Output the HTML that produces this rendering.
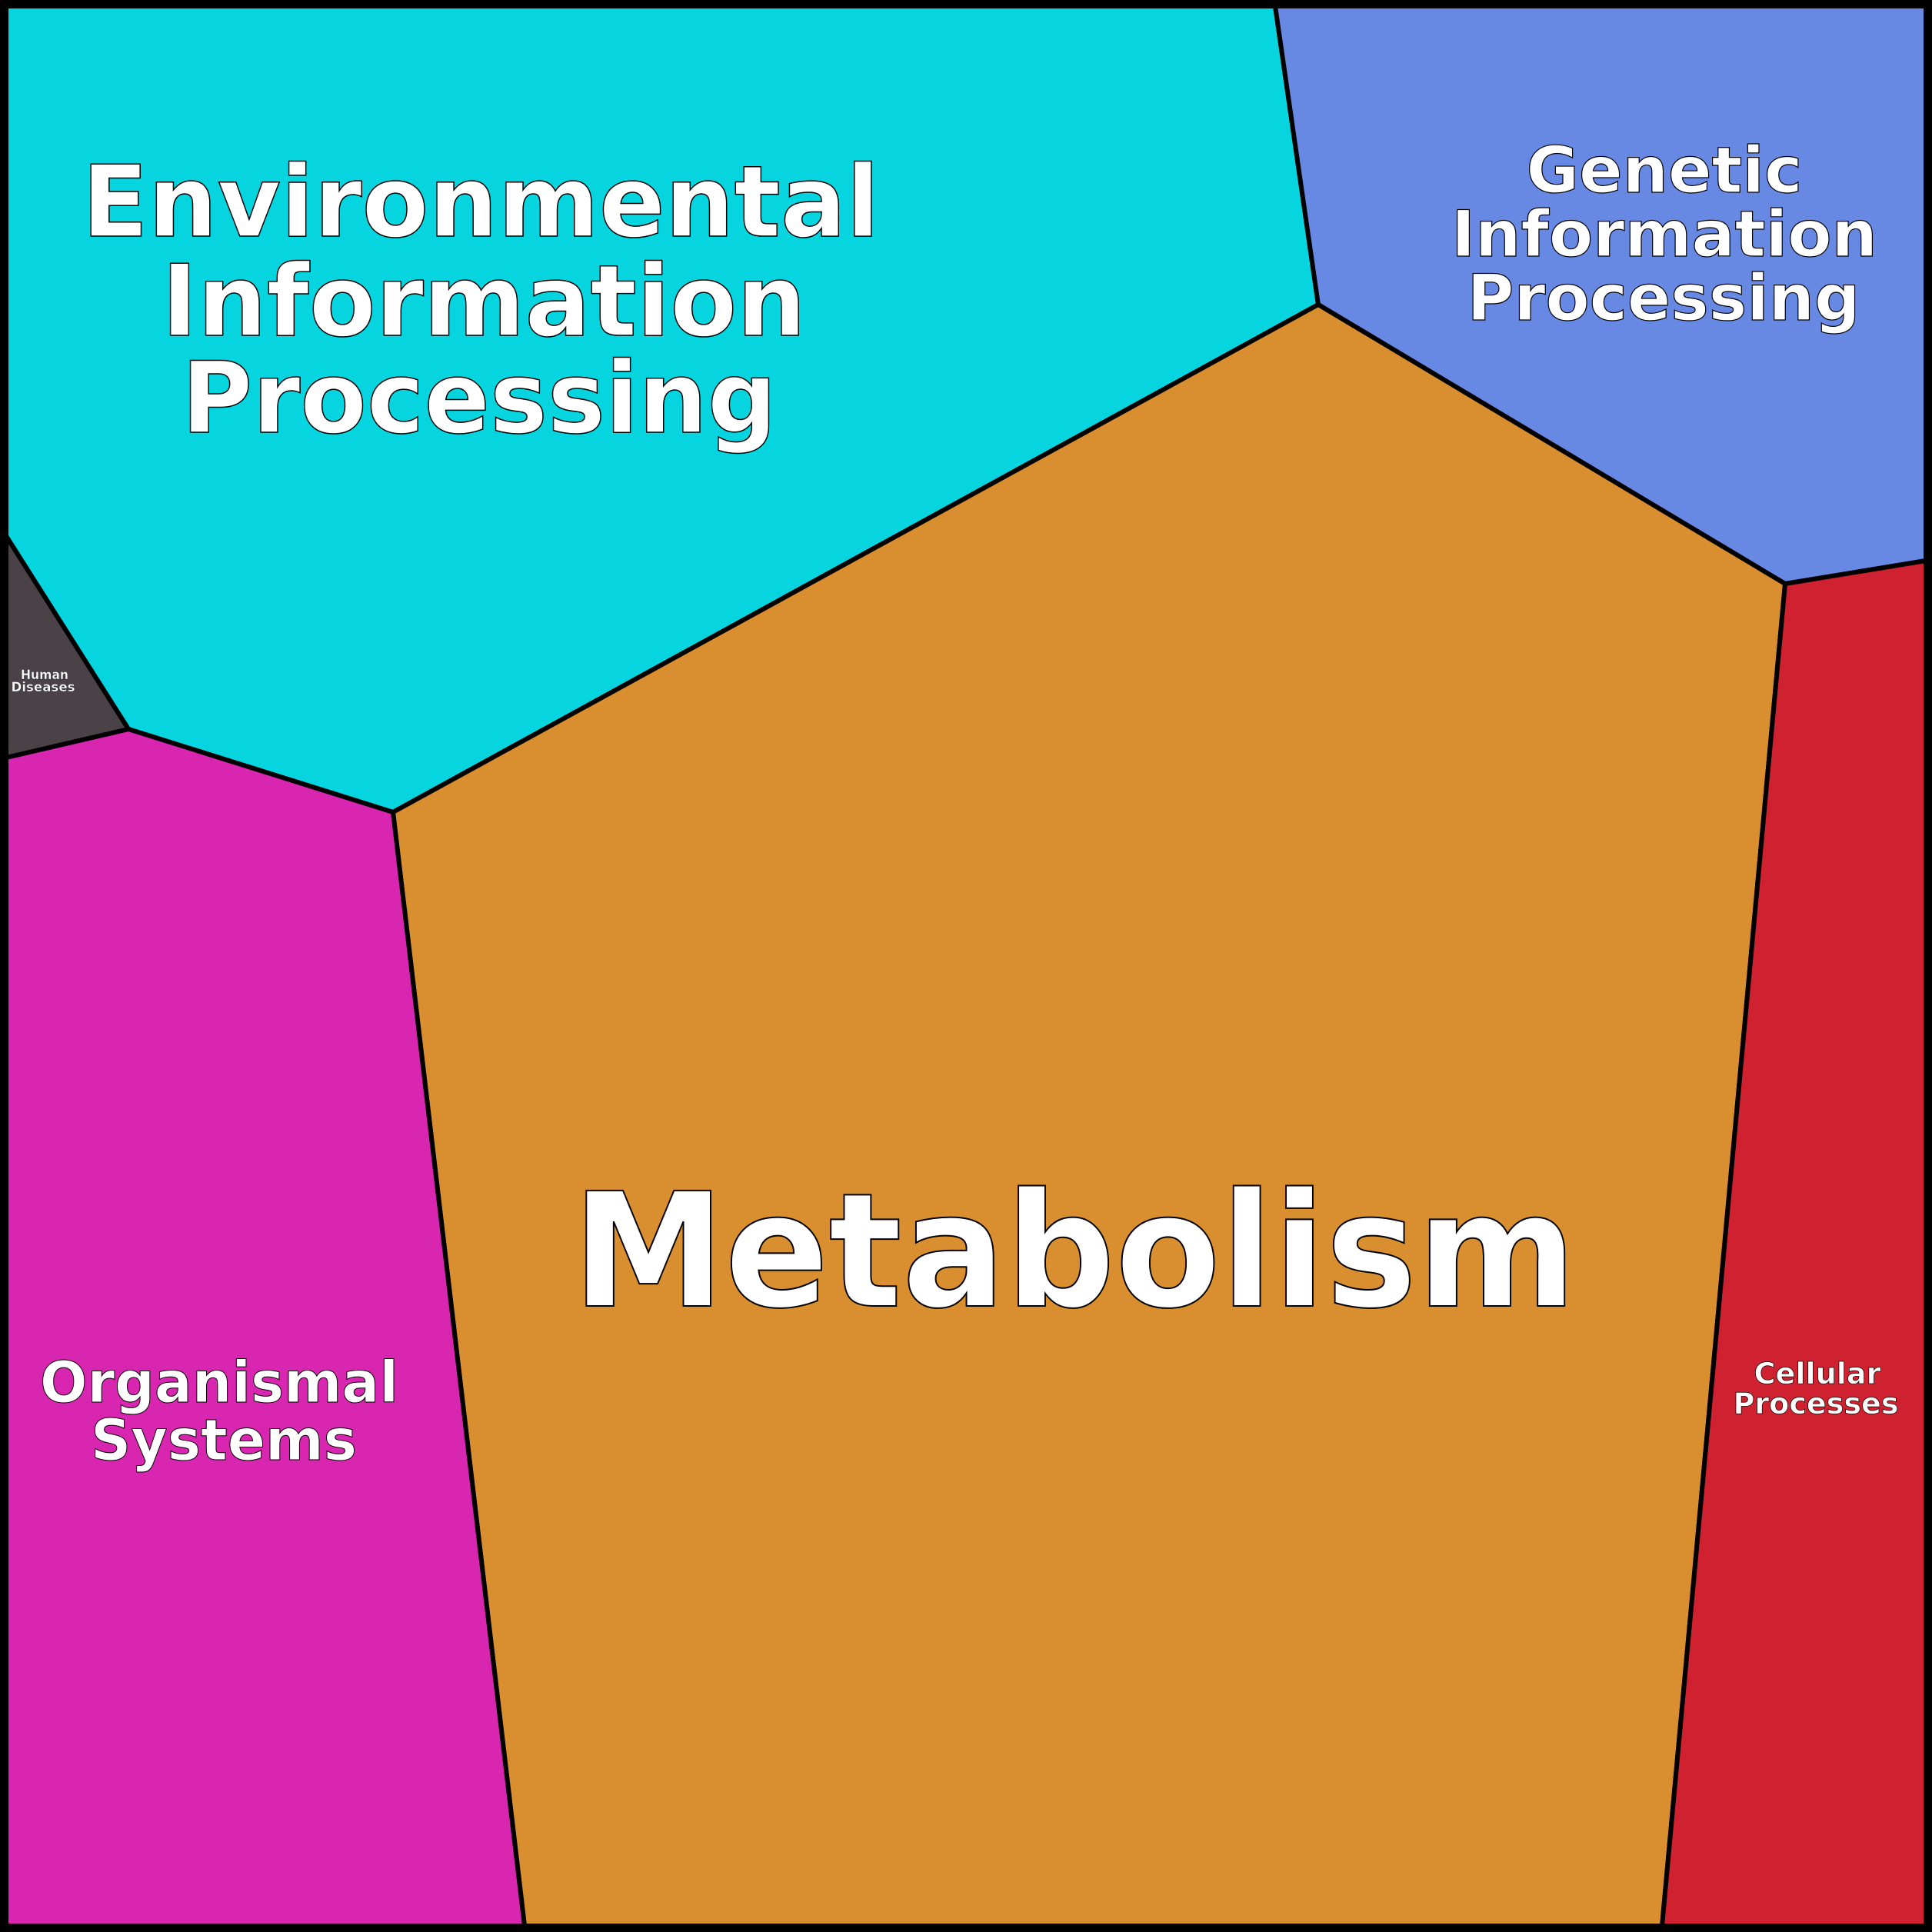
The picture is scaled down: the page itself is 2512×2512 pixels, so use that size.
<!DOCTYPE html>
<html><head><meta charset="utf-8"><style>html,body{margin:0;padding:0;background:#000}svg{display:block}</style></head>
<body>
<svg width="2512" height="2512" viewBox="0 0 2512 2512" xmlns="http://www.w3.org/2000/svg">
<g stroke="#000" stroke-width="6" stroke-linejoin="round">
<polygon points="8,8 1658,8 1714,396 511,1056 167,948 8,697" fill="#06d4de"/>
<polygon points="1658,8 2504,8 2504,729 2321,759 1714,396" fill="#6789e4"/>
<polygon points="1714,396 2321,759 2161,2504 682,2504 511,1056" fill="#d98f2f"/>
<polygon points="2321,759 2504,729 2504,2504 2161,2504" fill="#d02130"/>
<polygon points="8,985 167,948 511,1056 682,2504 8,2504" fill="#d926b0"/>
<polygon points="8,697 167,948 8,985" fill="#4b4248"/>
</g>
<rect x="5" y="5" width="2502" height="2502" fill="none" stroke="#000" stroke-width="10"/>
<g font-family="'DejaVu Sans','Liberation Sans',sans-serif" font-weight="bold" fill="#fff" stroke="#000" text-anchor="middle">
<g font-size="128" stroke-width="1.5">
<text x="625" y="307" textLength="1037" lengthAdjust="spacingAndGlyphs">Environmental</text>
<text x="629" y="436" textLength="838" lengthAdjust="spacingAndGlyphs">Information</text>
<text x="623" y="562" textLength="774" lengthAdjust="spacingAndGlyphs">Processing</text>
</g>
<g font-size="83" stroke-width="1.2">
<text x="2164" y="250" textLength="359" lengthAdjust="spacingAndGlyphs">Genetic</text>
<text x="2164" y="333" textLength="554" lengthAdjust="spacingAndGlyphs">Information</text>
<text x="2163" y="416" textLength="511" lengthAdjust="spacingAndGlyphs">Processing</text>
</g>
<text x="1397" y="1698" font-size="206" stroke-width="2" textLength="1306" lengthAdjust="spacingAndGlyphs">Metabolism</text>
<g font-size="74" stroke-width="1">
<text x="285" y="1823" textLength="466" lengthAdjust="spacingAndGlyphs">Organismal</text>
<text x="291" y="1898" textLength="346" lengthAdjust="spacingAndGlyphs">Systems</text>
</g>
<g font-size="38" stroke-width="0.7">
<text x="2363" y="1799" textLength="165" lengthAdjust="spacingAndGlyphs">Cellular</text>
<text x="2361" y="1838" textLength="215" lengthAdjust="spacingAndGlyphs">Processes</text>
</g>
<g font-size="17" stroke-width="0.3">
<text x="58" y="883" textLength="62" lengthAdjust="spacingAndGlyphs">Human</text>
<text x="56" y="899" textLength="83" lengthAdjust="spacingAndGlyphs">Diseases</text>
</g>
</g>
</svg>
</body></html>
